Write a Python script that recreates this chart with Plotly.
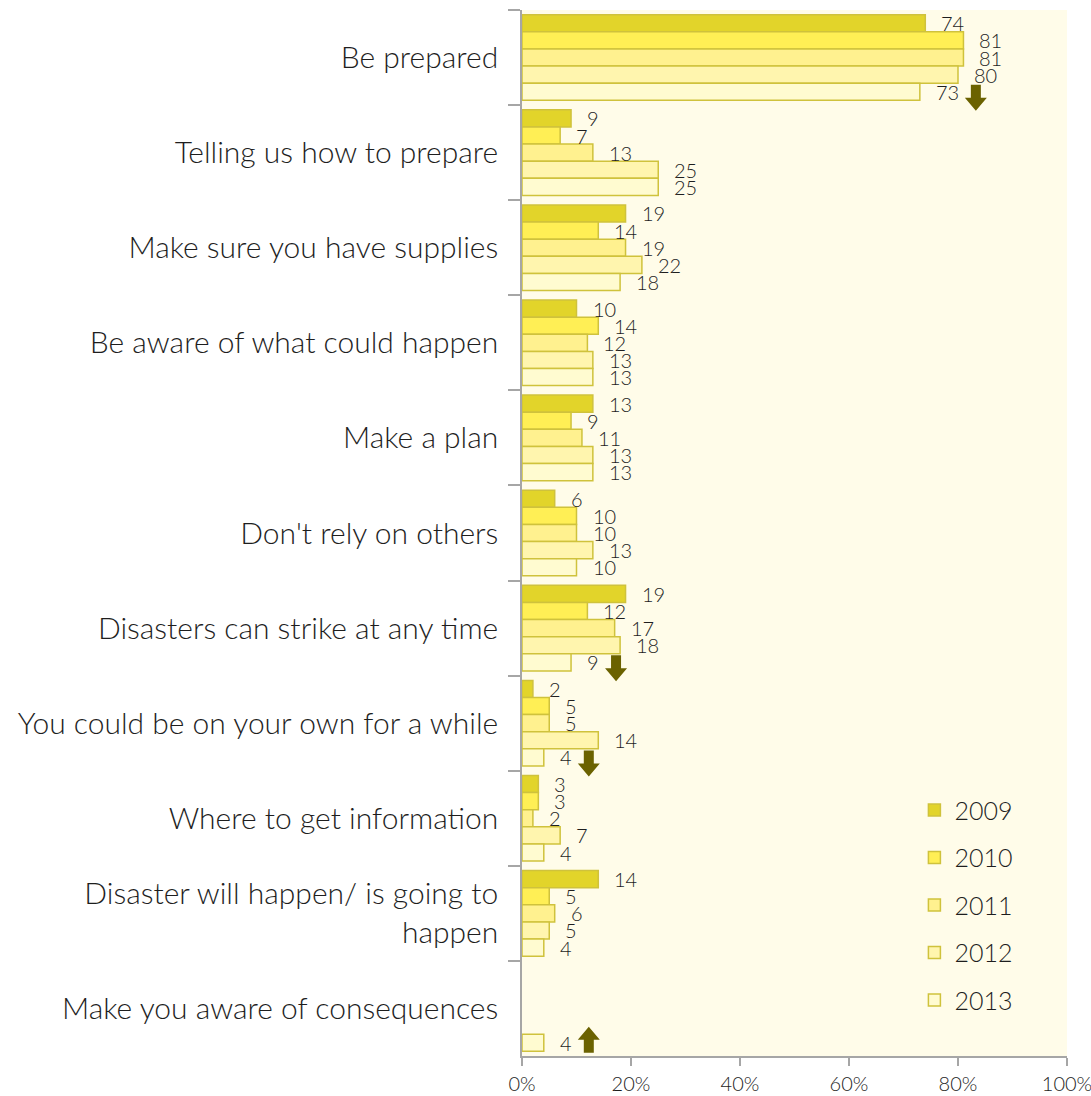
import plotly.graph_objects as go

# Survey: what the preparedness messages told people (% of respondents)
categories = [
    "Be prepared",
    "Telling us how to prepare",
    "Make sure you have supplies",
    "Be aware of what could happen",
    "Make a plan",
    "Don't rely on others",
    "Disasters can strike at any time",
    "You could be on your own for a while",
    "Where to get information",
    "Disaster will happen/ is going to<br>happen",
    "Make you aware of consequences",
]
years = ["2009", "2010", "2011", "2012", "2013"]

v2009 = [74, 9, 19, 10, 13, 6, 19, 2, 3, 14, None]
v2010 = [81, 7, 14, 14, 9, 10, 12, 5, 3, 5, None]
v2011 = [81, 13, 19, 12, 11, 10, 17, 5, 2, 6, None]
v2012 = [80, 25, 22, 13, 13, 13, 18, 14, 7, 5, None]
v2013 = [73, 25, 18, 13, 13, 10, 9, 4, 4, 4, 4]
series = [v2009, v2010, v2011, v2012, v2013]

x_ticks = [0, 20, 40, 60, 80, 100]

# Significant changes in 2013: (category index, direction)
changes = [(0, "down"), (6, "down"), (7, "down"), (10, "up")]

fills = ["#E2D42A", "#FFEF55", "#FFF18F", "#FFF5AE", "#FFFBD0"]
outline = "#CFC23C"
arrow_col = "#6B6200"
text_col = "#1E1E1E"
font_family = "Lato, 'Open Sans', sans-serif"

fig = go.Figure()
for yr, vals, col in zip(years, series, fills):
    fig.add_trace(go.Bar(
        name=yr, y=categories, x=vals, orientation="h",
        marker=dict(color=col, line=dict(color=outline, width=1.5)),
        legendgroup=yr,
    ))

# Bar slot offsets within a category band (5 bars, bargap 0.1)
bargap = 0.1
slot = (1 - bargap) / len(years)
offsets = [-(1 - bargap) / 2 + slot * (i + 0.5) for i in range(len(years))]

annotations = []
for k, vals in enumerate(series):
    for i, v in enumerate(vals):
        if v is None:
            continue
        annotations.append(dict(
            x=v, y=i + offsets[k], xref="x", yref="y", text=str(v),
            showarrow=False, xanchor="left", yanchor="middle", xshift=14,
            font=dict(size=20, color=text_col, family=font_family, weight=300),
        ))

shapes = []
for idx, direction in changes:
    v = v2013[idx]
    dx = 15 + 11 * len(str(v)) + 19
    if direction == "down":
        pts = [(-5, 13), (5, 13), (5, 0), (11, 0), (0, -13), (-11, 0), (-5, 0)]
        dy = -6
    else:
        pts = [(-5, -13), (5, -13), (5, 0), (11, 0), (0, 13), (-11, 0), (-5, 0)]
        dy = 3
    path = "M" + " L".join(f"{px + dx},{py + dy}" for px, py in pts) + " Z"
    shapes.append(dict(
        type="path", xref="x", yref="y",
        xsizemode="pixel", ysizemode="pixel",
        xanchor=v, yanchor=idx + offsets[-1],
        path=path, fillcolor=arrow_col, line=dict(width=0),
    ))

fig.update_layout(
    width=1091, height=1096,
    margin=dict(l=522, r=24, t=10, b=40),
    paper_bgcolor="white",
    plot_bgcolor="#FFFCE9",
    barmode="group", bargap=bargap, bargroupgap=0,
    font=dict(family=font_family, color=text_col),
    annotations=annotations,
    shapes=shapes,
    legend=dict(
        x=0.72, y=0.257, xanchor="left", yanchor="top",
        bgcolor="rgba(0,0,0,0)",
        font=dict(size=25, color=text_col, weight=300),
        tracegroupgap=12, traceorder="grouped", itemwidth=30,
    ),
    xaxis=dict(
        range=[0, 100], tickvals=x_ticks, ticktext=[f"{t}%" for t in x_ticks],
        showgrid=False, zeroline=False, showline=True,
        linecolor="#A6A6A6", linewidth=1.5,
        ticks="outside", ticklen=8, tickcolor="#A6A6A6", tickwidth=1.5,
        ticklabelstandoff=1, ticklabeloverflow="allow", automargin=False,
        tickfont=dict(size=20, color=text_col, weight=300),
    ),
    yaxis=dict(
        type="category", categoryorder="array", categoryarray=categories,
        range=[len(categories) - 0.5, -0.5],
        showgrid=False, zeroline=False, showline=True,
        linecolor="#A6A6A6", linewidth=1.5,
        ticks="outside", ticklen=12, tickcolor="#A6A6A6", tickwidth=1.5,
        tickson="boundaries", ticklabelstandoff=16, automargin=False,
        tickfont=dict(size=30, color=text_col, weight=300),
    ),
)

fig.write_html("out.html")
